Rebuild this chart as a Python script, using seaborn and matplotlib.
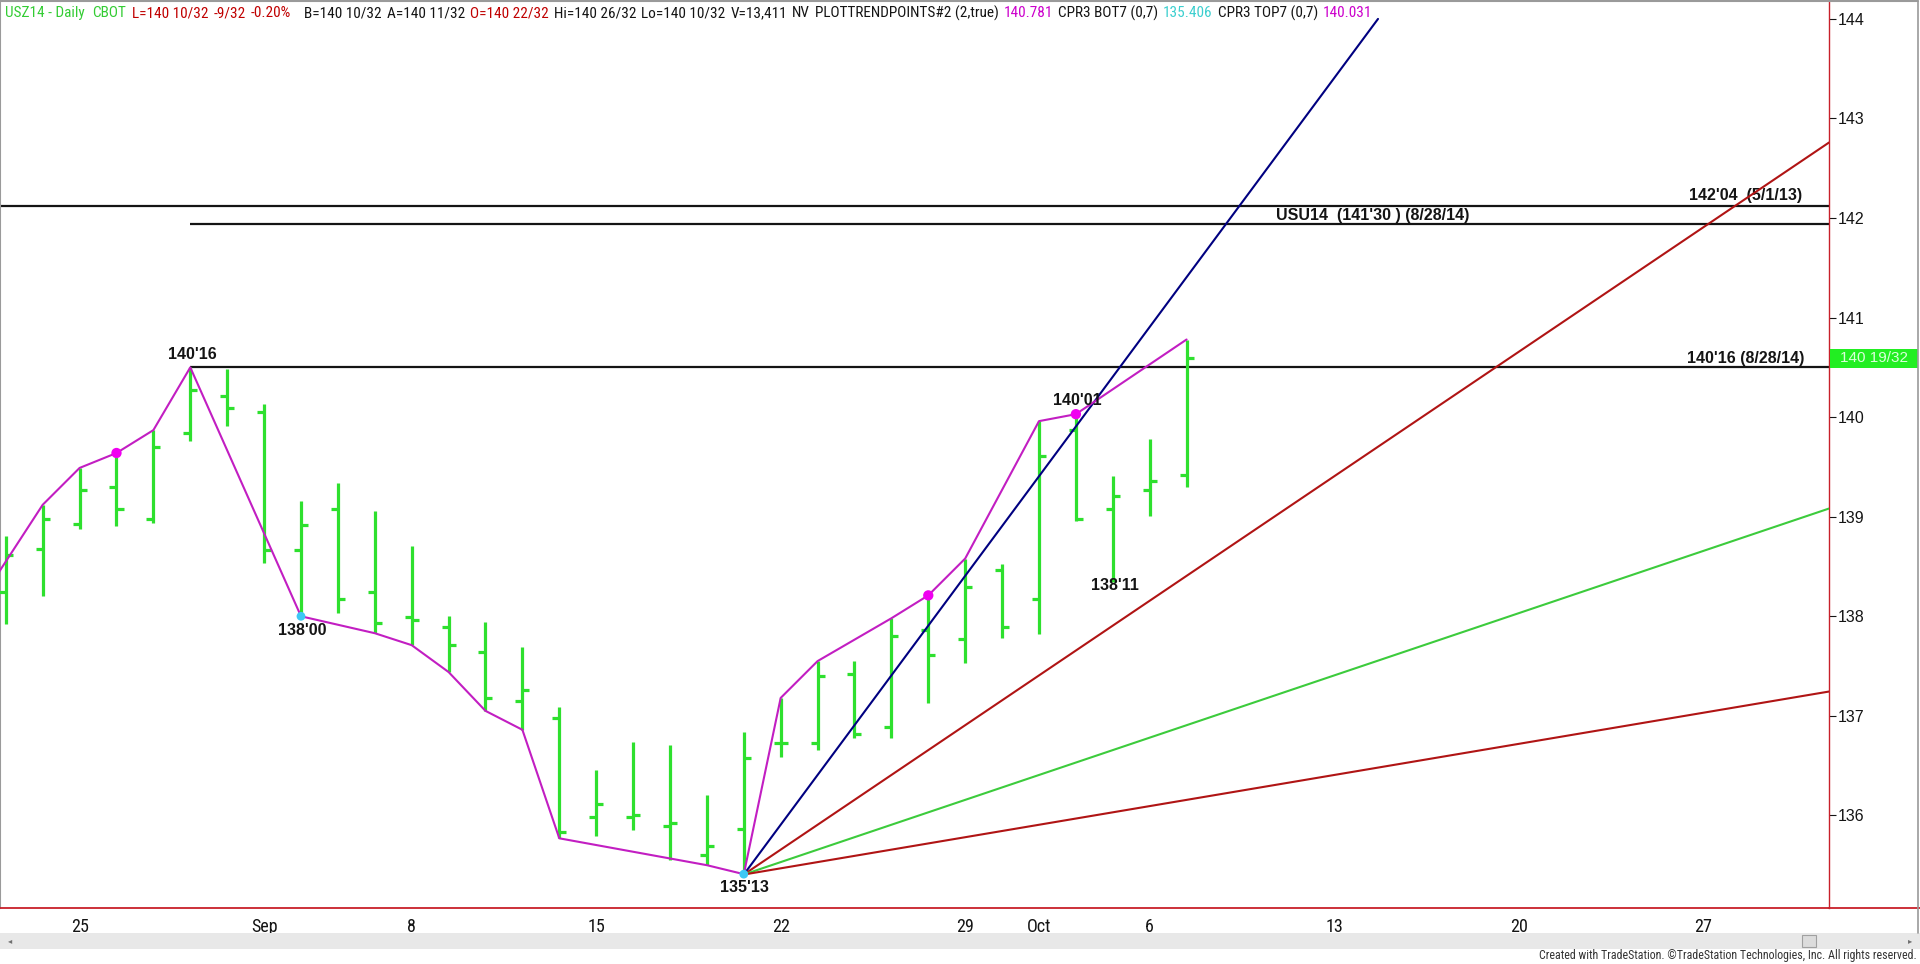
import numpy as np
import pandas as pd
import matplotlib
matplotlib.use("Agg")
import matplotlib.pyplot as plt
import seaborn as sns
from matplotlib import font_manager as fm
from matplotlib.patches import Rectangle
from matplotlib.lines import Line2D

# ---------------- data (USZ14 daily, trading-day index 0 = Aug 25) ----------------
bar_index = list(range(-2, 31))
opens = [138.24, 138.68, 138.93, 139.30, 138.98, 139.84, 140.21, 140.05, 138.67, 139.08,
         138.24, 137.99, 137.89, 137.64, 137.15, 136.98, 135.98, 135.98, 135.89, 135.60,
         135.86, 136.73, 136.73, 137.42, 136.89, 137.86, 137.77, 138.46, 138.17, 139.87,
         139.08, 139.27, 139.42]
highs = [138.81, 139.12, 139.49, 139.64, 139.87, 140.50, 140.48, 140.13, 139.16, 139.34,
         139.06, 138.71, 138.00, 137.94, 137.69, 137.09, 136.46, 136.74, 136.71, 136.21,
         136.84, 137.18, 137.55, 137.55, 137.98, 138.21, 138.58, 138.53, 139.96, 140.03,
         139.41, 139.78, 140.78]
lows = [137.92, 138.20, 138.88, 138.91, 138.94, 139.76, 139.91, 138.54, 138.00, 138.03,
        137.83, 137.71, 137.44, 137.05, 136.86, 135.77, 135.79, 135.85, 135.55, 135.50,
        135.41, 136.59, 136.66, 136.78, 136.78, 137.13, 137.53, 137.78, 137.82, 138.96,
        138.34, 139.01, 139.30]
closes = [138.62, 138.98, 139.27, 139.08, 139.70, 140.27, 140.09, 138.67, 138.92, 138.17,
          137.93, 137.96, 137.71, 137.18, 137.26, 135.83, 136.11, 136.00, 135.92, 135.69,
          136.58, 136.73, 137.40, 136.82, 137.80, 137.61, 138.29, 137.89, 139.61, 138.98,
          139.21, 139.36, 140.59]

trend_x = [-3, -1, 0, 1, 2, 3, 6, 8, 9, 10, 11, 12, 13, 17, 18, 19, 20, 22, 23, 24, 26, 27, 30]
trend_y = [137.98, 139.12, 139.49, 139.64, 139.87, 140.50, 138.00, 137.83, 137.71, 137.44,
           137.05, 136.86, 135.77, 135.50, 135.41, 137.18, 137.55, 137.98, 138.21, 138.58,
           139.96, 140.03, 140.78]
pivot_high_x = [1, 23, 27]
pivot_high_y = [139.64, 138.21, 140.03]
pivot_low_x = [6, 18]
pivot_low_y = [138.00, 135.41]

point_labels = ["140'16", "138'00", "135'13", "140'01", "138'11"]
point_label_x = [3, 6, 18, 27, 28]
point_label_price = [140.5, 138.0, 135.406, 140.031, 138.344]

level_prices = [140.5, 142.125, 141.9375]
level_start_x = [3, None, 3]
level_labels = ["140'16 (8/28/14)", "142'04  (5/1/13)", "USU14  (141'30 ) (8/28/14)"]

fan_anchor_x = 18
fan_anchor_price = 135.406
fan_slopes = [0.5, 0.25, 0.125, 0.0625]
fan_top_price = 144.0

date_tick_x = [0, 5, 9, 14, 19, 24, 26, 29, 34, 39, 44]
date_tick_labels = ["25", "Sep", "8", "15", "22", "29", "Oct", "6", "13", "20", "27"]
price_ticks = [136, 137, 138, 139, 140, 141, 142, 143, 144]
last_price_text = "140 19/32"

header_tokens = [
    ("USZ14 - Daily", "g"), ("CBOT", "g"), ("L=140 10/32", "r"), ("-9/32", "r"), ("-0.20%", "r"),
    ("B=140 10/32", "k"), ("A=140 11/32", "k"), ("O=140 22/32", "r"), ("Hi=140 26/32", "k"),
    ("Lo=140 10/32", "k"), ("V=13,411", "k"), ("NV", "k"), ("PLOTTRENDPOINTS#2 (2,true)", "k"),
    ("140.781", "m"), ("CPR3 BOT7 (0,7)", "k"), ("135.406", "c"), ("CPR3 TOP7 (0,7)", "k"),
    ("140.031", "m"),
]

# ---------------- style ----------------
sns.set_style("white")
plt.rcParams["font.family"] = ["Liberation Sans", "DejaVu Sans"]

# pick a condensed face if one is installed
_entries = fm.fontManager.ttflist
_names = {f.name for f in _entries}
NARROW = None
NARROW_STRETCH = "normal"
for cand in ["Liberation Sans Narrow", "Arial Narrow", "Roboto Condensed", "Open Sans Condensed",
             "Noto Sans Condensed"]:
    if cand in _names:
        NARROW = cand
        break
if NARROW is None:
    for f in _entries:
        if ("Condensed" in f.name or "Narrow" in f.name) and "Mono" not in f.name and "Serif" not in f.name:
            NARROW = f.name
            break
HAVE_NARROW = NARROW is not None
if NARROW is None:
    NARROW = "Liberation Sans"


def narrow_kw(size):
    return dict(family=[NARROW, "DejaVu Sans"], fontsize=size, fontstretch=NARROW_STRETCH)


W, H = 1920, 964
BAR_GREEN = "#2EE02E"
FAN_COLORS = ["#000080", "#B01414", "#3CCB3C", "#B01414"]
AXIS_RED = "#C8202A"

fig = plt.figure(figsize=(W / 100, H / 100), dpi=100)
fig.patch.set_facecolor("white")
ax = fig.add_axes([0, (H - 908) / H, 1829 / W, 908 / H])
ax.set_facecolor("white")
ax.set_xlim(-2.157, 47.41)
ax.set_ylim(135.07, 144.19)

# OHLC bars
bi = np.array(bar_index, dtype=float)
tick_half = 0.19
ax.vlines(bi, lows, highs, color=BAR_GREEN, lw=2.3, capstyle="butt", zorder=3)
ax.hlines(opens, bi - tick_half, bi, color=BAR_GREEN, lw=2.3, zorder=3)
ax.hlines(closes, bi, bi + tick_half, color=BAR_GREEN, lw=2.3, zorder=3)

# horizontal levels
x0, x1 = ax.get_xlim()
for p, s in zip(level_prices, level_start_x):
    ax.hlines(p, x0 if s is None else s, x1, color="#141414", lw=1.6, zorder=2)

# fan lines
for slope, col in zip(fan_slopes, FAN_COLORS):
    x_end = x1
    if fan_anchor_price + slope * (x1 - fan_anchor_x) > fan_top_price:
        x_end = fan_anchor_x + (fan_top_price - fan_anchor_price) / slope
    xs = [fan_anchor_x, x_end]
    ys = [fan_anchor_price, fan_anchor_price + slope * (x_end - fan_anchor_x)]
    sns.lineplot(x=xs, y=ys, ax=ax, color=col, lw=1.5, sort=False, estimator=None, zorder=4)

# trend points line
sns.lineplot(x=trend_x, y=trend_y, ax=ax, color="#C21EC2", lw=1.5, sort=False,
             estimator=None, zorder=5)
sns.scatterplot(x=pivot_high_x, y=pivot_high_y, ax=ax, color="#F000F0", s=55,
                edgecolor="none", zorder=6)
sns.scatterplot(x=pivot_low_x, y=pivot_low_y, ax=ax, color="#3CC8F5", s=40,
                edgecolor="none", zorder=6)

# point labels
label_offsets = [(1.2, 9), (1.0, -10.2), (0.5, -9.4), (1.2, 10), (1.9, -2.3)]
for txt, px, pp, off in zip(point_labels, point_label_x, point_label_price, label_offsets):
    ax.annotate(txt, xy=(px, pp), xytext=off, textcoords="offset points",
                ha="center", va="center", fontsize=11.5, fontweight="bold",
                color="#141414", zorder=7)

# level labels
ax.annotate(level_labels[0], xy=(1, level_prices[0]), xycoords=("axes fraction", "data"),
            xytext=(-18, 6.3), textcoords="offset points", ha="right", va="center",
            fontsize=11.5, fontweight="bold", color="#141414")
ax.annotate(level_labels[1], xy=(1, level_prices[1]), xycoords=("axes fraction", "data"),
            xytext=(-19, 7.2), textcoords="offset points", ha="right", va="center",
            fontsize=11.5, fontweight="bold", color="#141414")
ax.annotate(level_labels[2], xy=(1276 / 1829, level_prices[2]), xycoords=("axes fraction", "data"),
            xytext=(0, 6.5), textcoords="offset points", ha="left", va="center",
            fontsize=11.5, fontweight="bold", color="#141414")

# axes / ticks
ax.yaxis.tick_right()
ax.set_yticks(price_ticks)
ax.set_yticklabels([str(t) for t in price_ticks], fontsize=11.5, color="#141414")
ax.tick_params(axis="y", direction="out", length=5, width=0.8, colors="#141414", pad=1.5)
ax.set_xticks(date_tick_x)
date_size = 13 if HAVE_NARROW else 12
ax.set_xticklabels(date_tick_labels, color="#141414", **narrow_kw(date_size))
ax.tick_params(axis="x", direction="inout", length=6, width=0.8, color=AXIS_RED, pad=4)
ax.set_xlabel("")
ax.set_ylabel("")
for side in ["left", "top"]:
    ax.spines[side].set_color("#9A9A9A")
    ax.spines[side].set_linewidth(1.5)
ax.spines["right"].set_color(AXIS_RED)
ax.spines["right"].set_linewidth(1.0)
ax.spines["bottom"].set_color(AXIS_RED)
ax.spines["bottom"].set_linewidth(1.3)
ax.grid(False)


# figure furniture
def fy(y):
    return 1 - y / H


fig.add_artist(Line2D([1829 / W, 1], [fy(908), fy(908)], color=AXIS_RED, lw=1.3))
fig.add_artist(Line2D([0, 1918 / W], [fy(1), fy(1)], color="#9A9A9A", lw=1.5))
fig.add_artist(Line2D([1918 / W, 1918 / W], [fy(1), fy(933)], color="#9A9A9A", lw=1.2))
fig.add_artist(Rectangle((0, fy(949)), 1, 16 / H, transform=fig.transFigure,
                         facecolor="#E8E8E8", edgecolor="none"))
fig.add_artist(Rectangle((1802 / W, fy(947)), 14 / W, 12 / H, transform=fig.transFigure,
                         facecolor="#DCDCDC", edgecolor="#A0A0A0", lw=0.8))
fig.text(8 / W, fy(941), "\u25C2", fontsize=6, color="#707070", va="center",
         family=["DejaVu Sans"])
fig.text(1908 / W, fy(941), "\u25B8", fontsize=6, color="#707070", va="center",
         family=["DejaVu Sans"])
created = fig.text(1917 / W, fy(956),
                   "Created with TradeStation. \u00A9TradeStation Technologies, Inc. All rights reserved.",
                   ha="right", va="center", color="#333333", **narrow_kw(9))

# header tokens: start at the measured positions, pushed right only if the previous one runs into it
hdr_colors = {"g": "#33CC33", "r": "#C00000", "k": "#141414", "m": "#CC00CC", "c": "#3CCFCF"}
hdr_x = [3, 92, 132, 200, 247, 304, 375, 441, 539, 623, 704, 790, 814, 998, 1041, 1155, 1208, 1323]
hdr_size = 11 if HAVE_NARROW else 9
fig.canvas.draw()
renderer = fig.canvas.get_renderer()
cursor = 0.0
for (txt, c), hx in zip(header_tokens, hdr_x):
    xpos = max(hx, cursor + 5)
    t = fig.text(xpos / W, fy(13), txt, ha="left", va="center", color=hdr_colors[c],
                 **narrow_kw(hdr_size))
    cursor = xpos + t.get_window_extent(renderer).width

cw = created.get_window_extent(renderer).width
if cw > 378:
    created.set_fontsize(9 * 378 / cw)

# last-price box tied to the last close
y_last = ax.transData.transform((0, closes[-1]))[1]
fig.add_artist(Rectangle((1830 / W, (y_last - 9.5) / H), 88 / W, 19 / H, transform=fig.transFigure,
                         facecolor="#22EE22", edgecolor="none"))
fig.text(1874 / W, y_last / H, last_price_text, ha="center", va="center", fontsize=11,
         color="#D9FFD9")

fig.savefig("out.png", dpi=100, facecolor="white")
